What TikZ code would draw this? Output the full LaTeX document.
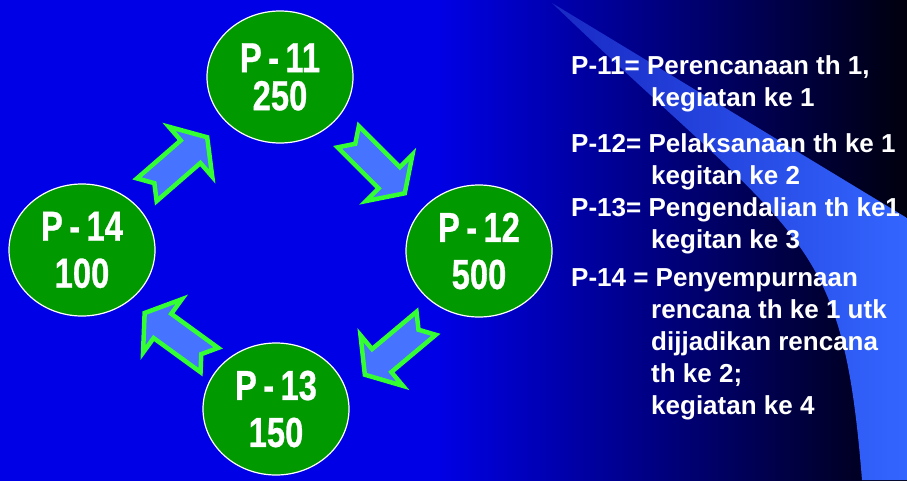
\documentclass[tikz,border=0pt]{standalone}
\usepackage{fontspec}
\setmainfont{Liberation Sans}
\newfontfamily\circfont[FakeStretch=0.78,WordSpace=0.7,FakeBold=0.6]{Liberation Sans}
\usetikzlibrary{
  shapes.geometric,
  calc,
  positioning
}

\definecolor{slideblue}{RGB}{0,0,230}
\definecolor{slidedark}{RGB}{0,0,12}
\definecolor{swooshdim}{RGB}{25,40,195}
\definecolor{swooshmid}{RGB}{50,95,240}
\definecolor{swooshblue}{RGB}{51,102,255}
\definecolor{circgreen}{RGB}{0,153,0}
\definecolor{arrowfill}{RGB}{70,115,255}
\definecolor{arrowedge}{RGB}{51,255,51}

\tikzset{
  stage/.style = {ellipse, draw = white, line width = 1.2pt, fill = circgreen,
    minimum width = 146pt, minimum height = 132pt, inner sep = 0pt,
    text = white, align = center,
    font = \circfont\bfseries\fontsize{42}{47}\selectfont},
  legend/.style = {anchor = north west, inner sep = 0pt, text = white,
    align = left, font = \bfseries\fontsize{26}{32}\selectfont},
  blockarrow/.pic = {
    \draw[fill = arrowfill, draw = arrowedge, line width = 4.5pt, line join = miter]
      (-40,-15) -- (-30,0) -- (-40,15) -- (18,15) -- (18,33) -- (40,0)
      -- (18,-33) -- (18,-15) -- cycle;
  }
}

\begin{document}
\begin{tikzpicture}[x = 1pt, y = -1pt]
    \useasboundingbox (0,0) rectangle (907,480);
    % background
    \shade[left color = slideblue, right color = slidedark] (436,-3) rectangle (910,483);
    \fill[slideblue] (-3,-3) rectangle (441,483);
    \shade[left color = swooshdim, middle color = swooshmid, right color = swooshblue]
      (552,3) -- (907,218) -- (907,480) -- (862,480)
      .. controls (842,230) and (802,243) .. (552,3) -- cycle;

    % cycle
    \node[stage] (p11) at (280,77) {P - 11\\[-9pt]250};
    \node[stage] (p12) at (479,251) {P - 12\\500};
    \node[stage] (p13) at (276,409) {P - 13\\150};
    \node[stage] (p14) at (82,250) {P - 14\\100};

    \pic[rotate = 41] at ($(p14)!.5!(p11) + (-4,0)$) {blockarrow};
    \pic[rotate = -45] at ($(p11)!.5!(p12) + (-3,1)$) {blockarrow};
    \pic[rotate = 220] at ($(p12)!.5!(p13) + (18,19)$) {blockarrow};
    \pic[rotate = 144] at ($(p13)!.5!(p14) + (-2,7)$) {blockarrow};

    % legend
    \node[legend] (k11) at (571,55)
      {P-11= Perencanaan th 1,\\\hspace*{80pt}kegiatan ke 1};
    \node[legend] (k12) at (571,133)
      {P-12= Pelaksanaan th ke 1\\\hspace*{80pt}kegitan ke 2};
    \node[legend] (k13) at (571,197)
      {P-13= Pengendalian th ke1\\\hspace*{80pt}kegitan ke 3};
    \node[legend] (k14) at (571,268)
      {P-14 = Penyempurnaan\\\hspace*{80pt}rencana th ke 1 utk\\
       \hspace*{80pt}dijjadikan rencana\\\hspace*{80pt}th ke 2;\\
       \hspace*{80pt}kegiatan ke 4};
\end{tikzpicture}
\end{document}
